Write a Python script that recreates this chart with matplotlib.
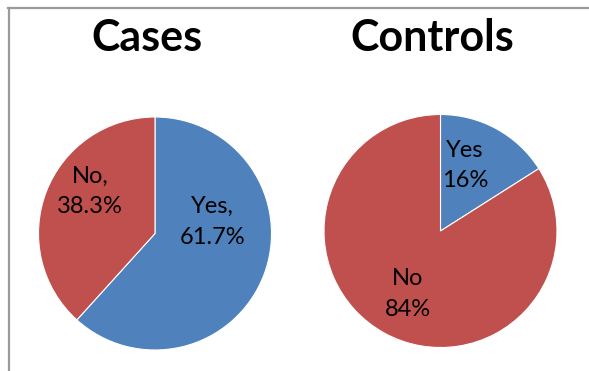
import matplotlib
matplotlib.use("Agg")
import matplotlib.pyplot as plt
from matplotlib.lines import Line2D

plt.rcParams['font.family'] = ['Lato', 'DejaVu Sans']

# pie data
groups = ["Cases", "Controls"]
answers = ["Yes", "No"]
cases_pct = [61.7, 38.3]
controls_pct = [16, 84]
cases_labels = ["Yes,\n61.7%", "No,\n38.3%"]
controls_labels = ["Yes\n16%", "No\n84%"]

colors = ["#4F81BD", "#C0504D"]

W, H = 589, 371
fig = plt.figure(figsize=(W / 100, H / 100), dpi=100)
fig.patch.set_facecolor("white")

# chart-area border, only top and left edges are visible
fig.add_artist(Line2D([8 / W, 1.0], [1 - 7.5 / H, 1 - 7.5 / H],
                      color="#9a9a9a", lw=1.6, transform=fig.transFigure))
fig.add_artist(Line2D([8.5 / W, 8.5 / W], [1 - 7.5 / H, 0],
                      color="#9a9a9a", lw=1.6, transform=fig.transFigure))


def pie_axes(cx, cy, r):
    ax = fig.add_axes([(cx - r) / W, 1 - (cy + r) / H, 2 * r / W, 2 * r / H])
    ax.set_xlim(-1, 1)
    ax.set_ylim(-1, 1)
    ax.set_aspect("equal")
    ax.axis("off")
    return ax


panels = [
    (groups[0], cases_pct, cases_labels, (155, 233.5), [(0.49, 0.10), (-0.56, 0.36)]),
    (groups[1], controls_pct, controls_labels, (440.5, 231), [(0.21, 0.56), (-0.28, -0.54)]),
]
title_x = [147, 432]

for i, (name, vals, labs, (cx, cy), label_pos) in enumerate(panels):
    ax = pie_axes(cx, cy, 116.5)
    ax.pie(vals, colors=colors, startangle=90, counterclock=False, radius=1,
           wedgeprops=dict(edgecolor="white", linewidth=0.8))
    ax.set_xlim(-1, 1)
    ax.set_ylim(-1, 1)
    for lab, (lx, ly) in zip(labs, label_pos):
        ax.text(lx, ly, lab, ha="center", va="center", fontsize=17,
                color="black", linespacing=1.55)
    fig.text(title_x[i] / W, 1 - 38 / H, name, ha="center", va="center",
             fontsize=31, fontweight="bold", color="black")

fig.savefig("out.png", dpi=100)
